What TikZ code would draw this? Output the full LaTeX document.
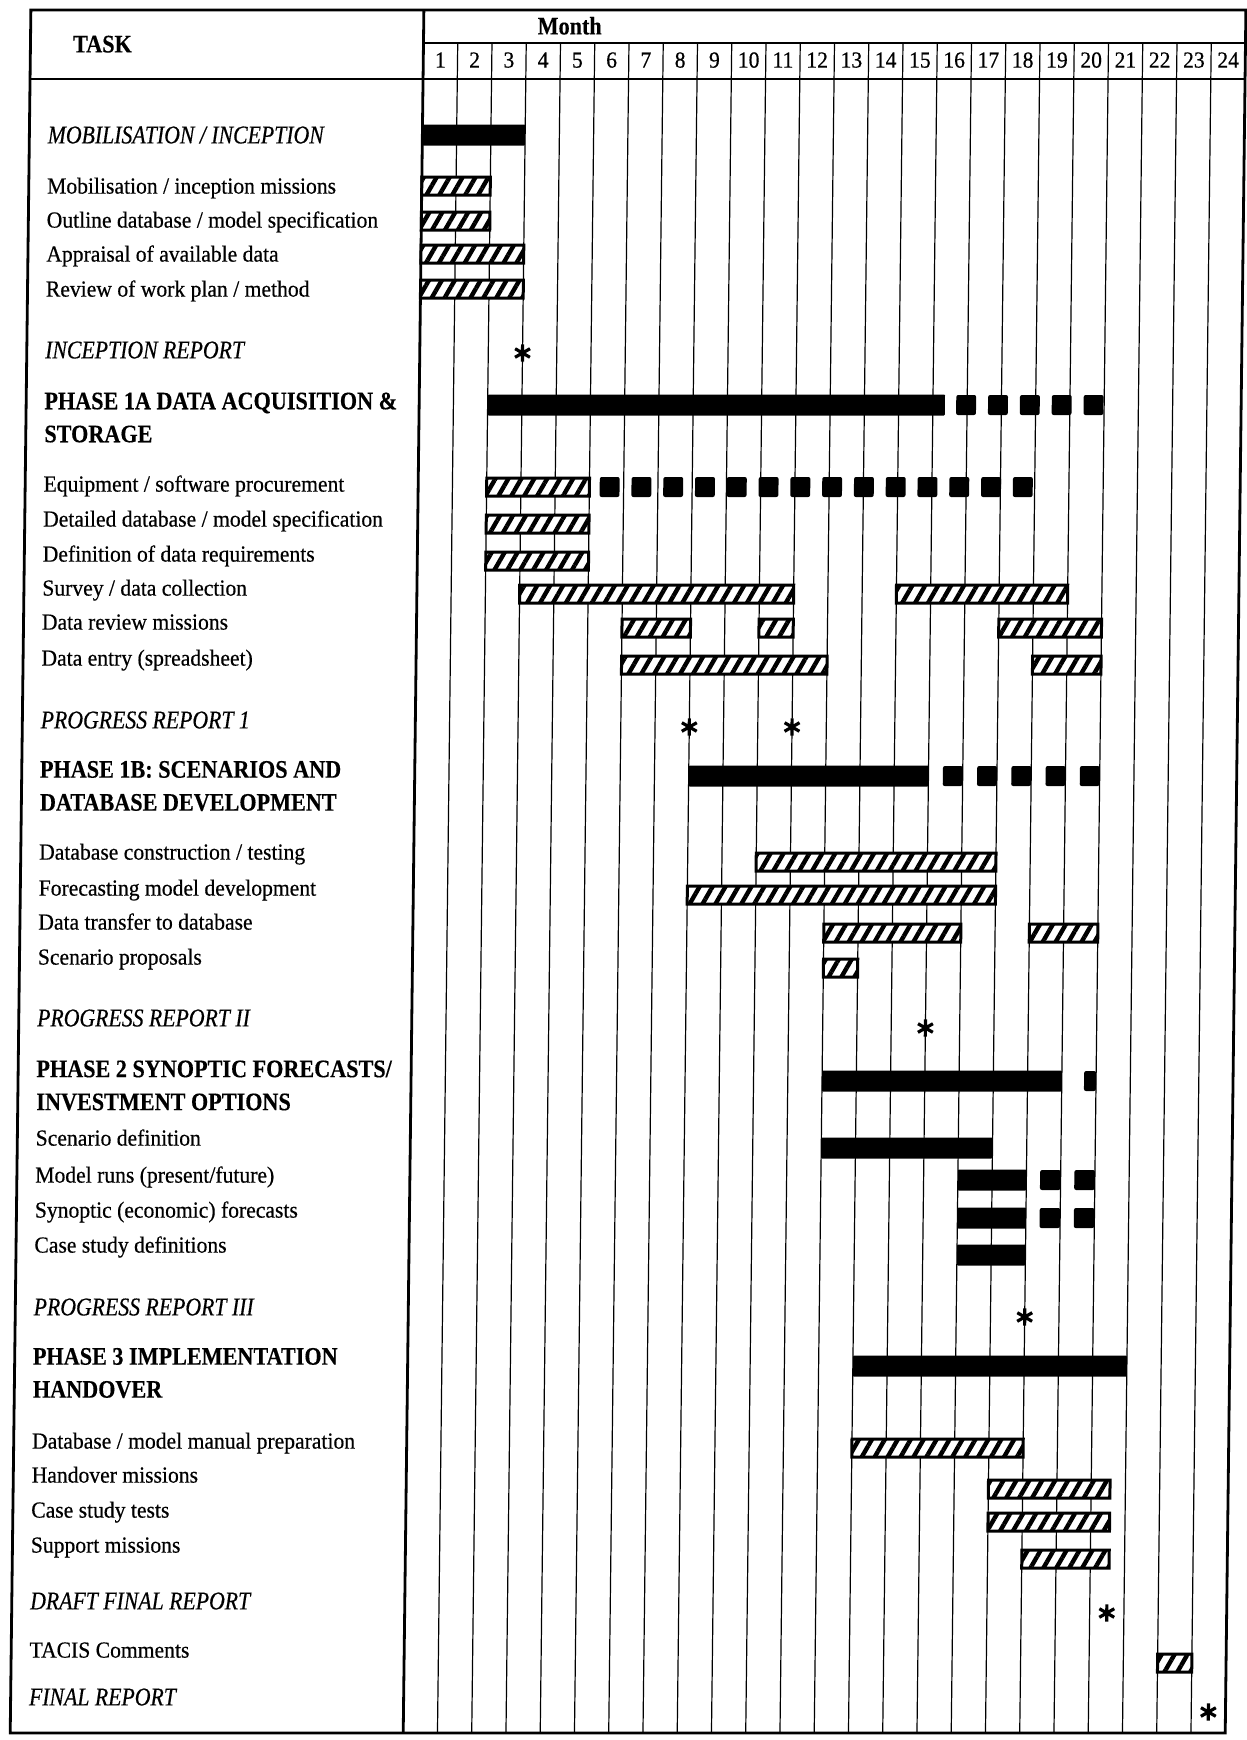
\documentclass[tikz,border=0pt]{standalone}
\usepackage{fontspec}
\setmainfont[FakeStretch=0.94, FakeBold=0.5]{Liberation Serif}
\newfontfamily\phasefont[FakeStretch=0.88, FakeBold=0.3]{Liberation Serif}
\newfontfamily\reportfont[FakeStretch=0.85, FakeBold=0.4]{Liberation Serif}
\usetikzlibrary{patterns.meta}

\tikzstyle{task} = [anchor=west, inner sep=0pt, text height=7.6pt, text depth=0pt, font=\fontsize{11.5}{13}\selectfont]
\tikzstyle{report} = [anchor=west, inner sep=0pt, text height=8.4pt, text depth=0pt, font=\reportfont\itshape\fontsize{12.8}{15}\selectfont]
\tikzstyle{phase} = [anchor=west, inner sep=0pt, align=left, font=\phasefont\bfseries\fontsize{12.6}{16.5}\selectfont]
\tikzstyle{header} = [inner sep=0pt, text height=8.4pt, text depth=0pt, font=\phasefont\bfseries\fontsize{12.6}{15}\selectfont]
\tikzstyle{monthno} = [inner sep=0pt, text height=7.6pt, text depth=0pt, font=\fontsize{11.5}{13}\selectfont]
\tikzstyle{frame} = [line width=1.4pt]
\tikzstyle{gridline} = [line width=0.6pt]
\tikzstyle{solidbar} = [fill=black, rounded corners=0.5pt]
\tikzstyle{gapped} = [fill=black, rounded corners=1pt]
\tikzstyle{hatched} = [draw=black, line width=1.5pt, preaction={fill=white}, pattern={Lines[angle=60, distance=5.6pt, line width=2.2pt]}]
\tikzstyle{starmark} = [line width=1.6pt]

% bars: start month, end month, row
\newcommand{\workbar}[3]{\draw[hatched] (#1,#3-9) rectangle (#2,#3+9);}
\newcommand{\phasebar}[3]{\fill[solidbar] (#1,#3-10.5) rectangle (#2,#3+10.5);}
\newcommand{\gapblock}[3]{\fill[gapped] (#1,#3-10) rectangle (#2,#3+10);}
\newcommand{\milestone}[2]{\draw[starmark] (#1,#2) +(90:4.3pt) -- +(270:4.3pt) +(30:4.3pt) -- +(210:4.3pt) +(150:4.3pt) -- +(330:4.3pt);}

\begin{document}
\begin{tikzpicture}[x=0.5pt, y=-0.5pt]
\useasboundingbox (0,0) rectangle (1247,1740);
\begin{scope}[xslant=0.012]

% Frame and header
\draw[frame] (31,10) rectangle (1246,1733);
\draw[frame] (31,79) -- (1246,79);
\draw[frame] (424,10) -- (424,1733);
\draw[line width=0.9pt] (424,43) -- (1246,43);
\node (task) [header] at (103,44) {TASK};
\node (month) [header] at (570,26) {Month};

% Chart, x in months
\begin{scope}[shift={(424,0)}, x=17.125pt]
\foreach \m in {1,...,23} \draw[gridline] (\m,43) -- (\m,1733);
\foreach \m in {1,...,24} \node (m\m) [monthno] at (\m-0.5,60) {\m};

% Mobilisation / inception
\phasebar{0}{3}{135}
\workbar{0}{2}{186}
\workbar{0}{2}{221}
\workbar{0}{3}{254}
\workbar{0}{3}{289}
\milestone{3}{353}

% Phase 1A
\phasebar{2}{15.35}{405}
\foreach \s in {0,...,4} {\gapblock{15.68+0.93*\s}{16.26+0.93*\s}{405}}
\workbar{2}{5}{487}
\foreach \s in {0,...,13} {\gapblock{5.3+0.928*\s}{5.88+0.928*\s}{487}}
\workbar{2}{5}{524}
\workbar{2}{5}{561}
\workbar{3}{11}{594} \workbar{14}{19}{594}
\workbar{6}{8}{628} \workbar{10}{11}{628} \workbar{17}{20}{628}
\workbar{6}{12}{665} \workbar{18}{20}{665}
\milestone{8}{727} \milestone{11}{727}

% Phase 1B
\phasebar{8}{15}{776}
\foreach \k in {15,...,19} {\gapblock{\k+0.42}{\k+1}{776}}
\workbar{10}{17}{862}
\workbar{8}{17}{895}
\workbar{12}{16}{933} \workbar{18}{20}{933}
\workbar{12}{13}{968}
\milestone{15}{1028}

% Phase 2
\phasebar{12}{19}{1081} \gapblock{19.65}{20}{1081}
\phasebar{12}{17}{1148}
\phasebar{16}{18}{1180} \gapblock{18.4}{19}{1180} \gapblock{19.4}{20}{1180}
\phasebar{16}{18}{1218} \gapblock{18.4}{19}{1218} \gapblock{19.4}{20}{1218}
\phasebar{16}{18}{1255}
\milestone{18}{1317}

% Phase 3
\phasebar{13}{21}{1366}
\workbar{13}{18}{1448}
\workbar{17}{20.55}{1489}
\workbar{17}{20.55}{1522}
\workbar{18}{20.55}{1559}
\milestone{20.5}{1613}
\workbar{22}{23}{1663}
\milestone{23.5}{1712}
\end{scope}

% Task column
\node (mobilisation) [report] at (49,135) {MOBILISATION / INCEPTION};
\node (mob-missions) [task] at (49,186) {Mobilisation / inception missions};
\node (outline-spec) [task] at (49,220) {Outline database / model specification};
\node (appraisal) [task] at (49,254) {Appraisal of available data};
\node (work-plan) [task] at (49,289) {Review of work plan / method};
\node (inception-report) [report] at (49,350) {INCEPTION REPORT};
\node (phase-1a) [phase] at (49,417.5) {PHASE 1A DATA ACQUISITION \&\\STORAGE};
\node (procurement) [task] at (49,484) {Equipment / software procurement};
\node (detailed-spec) [task] at (49,519) {Detailed database / model specification};
\node (data-req) [task] at (49,554) {Definition of data requirements};
\node (survey) [task] at (49,588) {Survey / data collection};
\node (review-missions) [task] at (49,622) {Data review missions};
\node (data-entry) [task] at (49,658) {Data entry (spreadsheet)};
\node (report-1) [report] at (49,720) {PROGRESS REPORT 1};
\node (phase-1b) [phase] at (49,786) {PHASE 1B: SCENARIOS AND\\DATABASE DEVELOPMENT};
\node (db-construction) [task] at (49,852) {Database construction / testing};
\node (forecasting) [task] at (49,888) {Forecasting model development};
\node (data-transfer) [task] at (49,922) {Data transfer to database};
\node (proposals) [task] at (49,957) {Scenario proposals};
\node (report-2) [report] at (49,1018) {PROGRESS REPORT II};
\node (phase-2) [phase] at (49,1085.5) {PHASE 2 SYNOPTIC FORECASTS/\\INVESTMENT OPTIONS};
\node (scenario-def) [task] at (49,1138) {Scenario definition};
\node (model-runs) [task] at (49,1175) {Model runs (present/future)};
\node (synoptic) [task] at (49,1210) {Synoptic (economic) forecasts};
\node (case-def) [task] at (49,1245) {Case study definitions};
\node (report-3) [report] at (49,1307) {PROGRESS REPORT III};
\node (phase-3) [phase] at (49,1373) {PHASE 3 IMPLEMENTATION\\HANDOVER};
\node (manual-prep) [task] at (49,1441) {Database / model manual preparation};
\node (handover) [task] at (49,1475) {Handover missions};
\node (case-tests) [task] at (49,1510) {Case study tests};
\node (support) [task] at (49,1545) {Support missions};
\node (draft-report) [report] at (49,1601) {DRAFT FINAL REPORT};
\node (tacis) [task] at (49,1650) {TACIS Comments};
\node (final-report) [report] at (49,1697) {FINAL REPORT};

\end{scope}
\end{tikzpicture}
\end{document}
